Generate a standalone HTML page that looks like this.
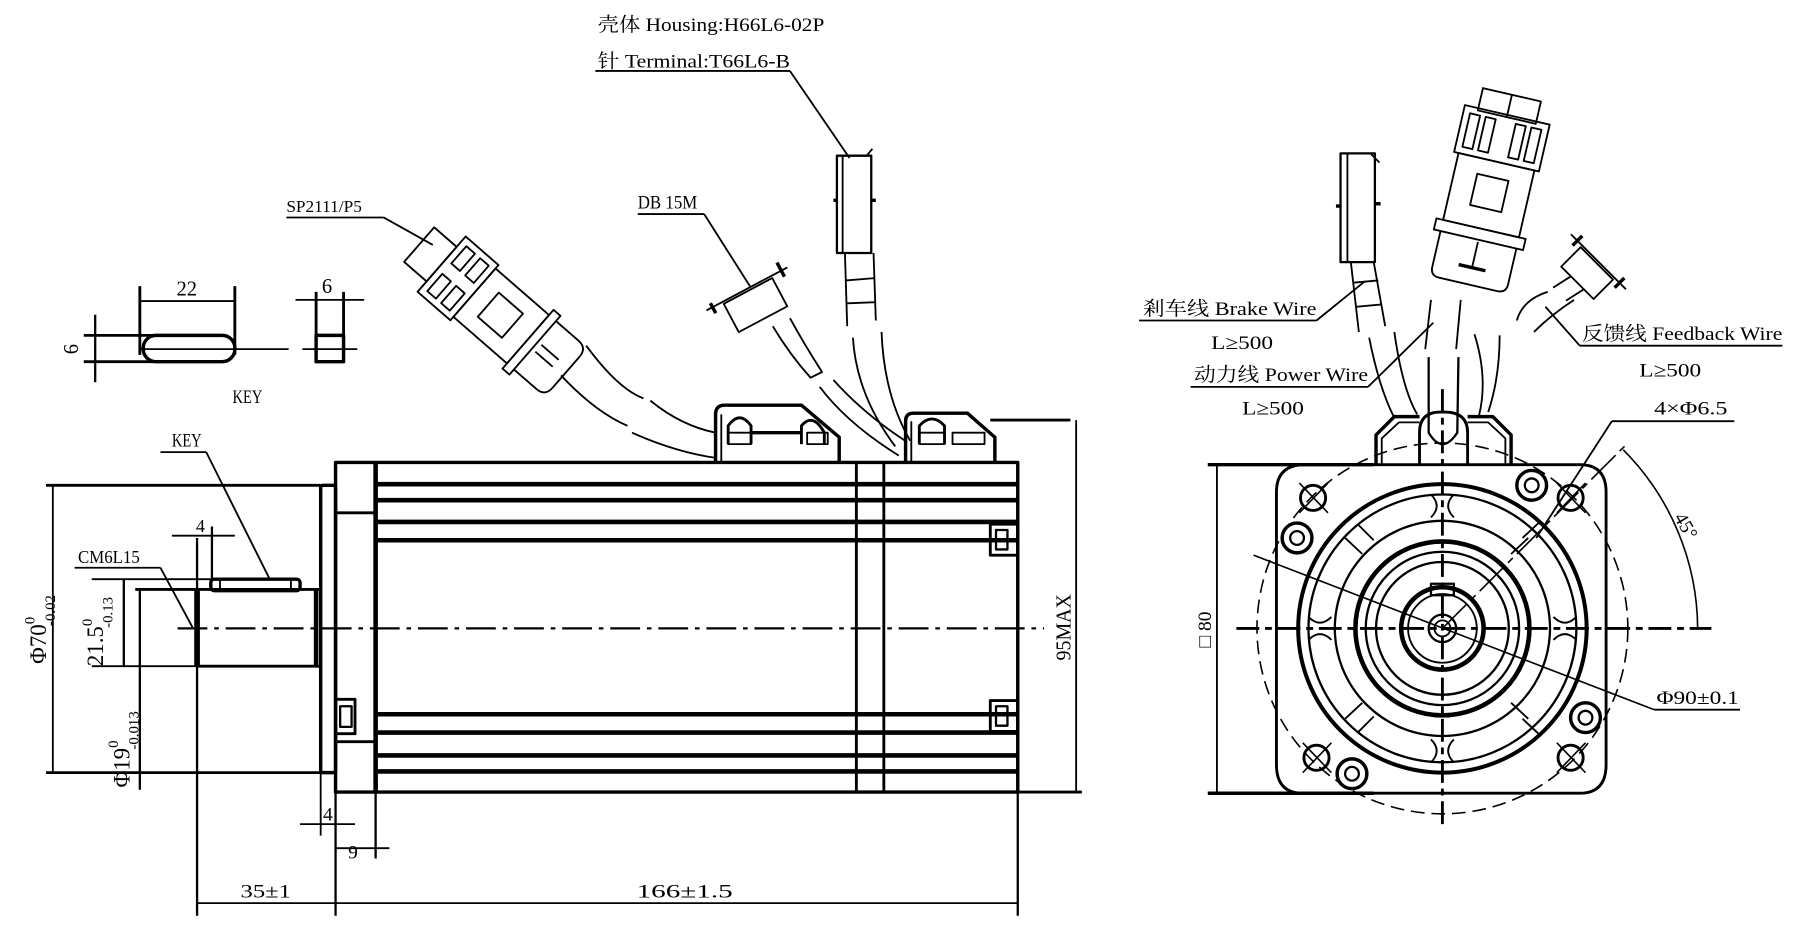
<!DOCTYPE html>
<html><head><meta charset="utf-8"><style>
html,body{margin:0;padding:0;background:#fff;}
svg{display:block;}
text{font-family:"Liberation Serif","Noto Serif CJK SC","Noto Sans CJK SC",serif;fill:#000;}
</style></head><body>
<svg width="1794" height="926" viewBox="0 0 1567 809" xmlns="http://www.w3.org/2000/svg">
<rect x="0" y="0" width="1567" height="809" fill="#fff"/>
<g fill="none" stroke="#000" stroke-width="1.6" stroke-linejoin="round">

<line x1="520" y1="62" x2="690" y2="62"/>
<line x1="690" y1="62" x2="742" y2="138"/>
<line x1="250" y1="190" x2="335" y2="190"/>
<line x1="335" y1="190" x2="378" y2="214"/>
<line x1="557" y1="187" x2="615" y2="187"/>
<line x1="615" y1="187" x2="655" y2="250"/>

<rect x="125" y="293" width="80" height="23" rx="11" stroke-width="3"/>
<line x1="122" y1="250" x2="122" y2="310" stroke-width="2.5"/>
<line x1="205" y1="250" x2="205" y2="310" stroke-width="2.5"/>
<line x1="122" y1="263" x2="205" y2="263"/>
<line x1="73" y1="293" x2="140" y2="293" stroke-width="2.5"/>
<line x1="73" y1="316" x2="140" y2="316" stroke-width="2.5"/>
<line x1="122" y1="305" x2="252" y2="305"/>
<line x1="83" y1="275" x2="83" y2="334" stroke-width="2"/>
<rect x="276" y="293" width="24" height="23" stroke-width="3"/>
<line x1="276" y1="255" x2="276" y2="300" stroke-width="2.5"/>
<line x1="300" y1="255" x2="300" y2="300" stroke-width="2.5"/>
<line x1="258" y1="262" x2="318" y2="262"/>
<line x1="264" y1="305" x2="312" y2="305"/>

<rect x="293" y="404" width="596" height="288" stroke-width="3"/>
<line x1="328" y1="404" x2="328" y2="692" stroke-width="4"/>
<line x1="748" y1="404" x2="748" y2="692" stroke-width="2.5"/>
<line x1="772" y1="404" x2="772" y2="692" stroke-width="2.5"/>
<line x1="293" y1="448" x2="328" y2="448" stroke-width="2.5"/>
<line x1="293" y1="648" x2="328" y2="648" stroke-width="2.5"/>
<g stroke-width="4">
<line x1="328" y1="423" x2="889" y2="423"/>
<line x1="328" y1="437" x2="889" y2="437"/>
<line x1="328" y1="456" x2="889" y2="456"/>
<line x1="328" y1="472" x2="889" y2="472"/>
<line x1="328" y1="624" x2="889" y2="624"/>
<line x1="328" y1="640" x2="889" y2="640"/>
<line x1="328" y1="660" x2="889" y2="660"/>
<line x1="328" y1="674" x2="889" y2="674"/>
</g>
<rect x="865" y="458" width="24" height="27" stroke-width="2.5"/>
<rect x="870" y="463" width="10" height="17" stroke-width="2"/>
<rect x="865" y="612" width="24" height="27" stroke-width="2.5"/>
<rect x="870" y="617" width="10" height="17" stroke-width="2"/>
<rect x="293" y="611" width="17" height="30" stroke-width="2.5"/>
<rect x="297" y="617" width="10" height="18" stroke-width="2"/>
<rect x="280" y="424" width="13" height="251" rx="2" stroke-width="3"/>
<line x1="172" y1="515" x2="172" y2="582" stroke-width="5"/>
<line x1="172" y1="515" x2="280" y2="515" stroke-width="2.5"/>
<line x1="172" y1="582" x2="280" y2="582" stroke-width="2.5"/>
<line x1="276" y1="515" x2="276" y2="582" stroke-width="4"/>
<rect x="184" y="506" width="78" height="10" rx="3" stroke-width="3"/>
<line x1="192" y1="506" x2="192" y2="516"/>
<line x1="254" y1="506" x2="254" y2="516"/>
<line x1="155" y1="549" x2="912" y2="549" stroke-width="2" stroke-dasharray="26,6,4,6"/>

<path d="M625 404 L625 362 Q625 354 633 354 L700 354 L733 382 L733 404" stroke-width="3"/>
<line x1="630" y1="362" x2="630" y2="404"/>
<path d="M636 388 L636 372 Q646 358 656 372 L656 388" stroke-width="2.5"/>
<path d="M700 388 L700 372 Q710 360 720 378 L720 388" stroke-width="2.5"/>
<line x1="656" y1="378" x2="700" y2="378" stroke-width="3"/>
<rect x="636" y="378" width="20" height="10"/>
<rect x="705" y="378" width="18" height="10"/>
<path d="M791 404 L791 368 Q791 361 798 361 L845 361 L869 382 L869 404" stroke-width="3"/>
<line x1="796" y1="368" x2="796" y2="404"/>
<path d="M803 388 L803 372 Q814 360 825 372 L825 388" stroke-width="2.5"/>
<rect x="803" y="378" width="22" height="10"/>
<rect x="832" y="378" width="28" height="10"/>
<line x1="865" y1="367" x2="935" y2="367" stroke-width="2.5"/>

<g transform="translate(440,278) rotate(41)">
<rect x="-98" y="-20" width="26" height="40"/>
<rect x="-72" y="-32" width="38" height="64"/>
<rect x="-66" y="-26" width="10" height="20"/>
<rect x="-66" y="6" width="10" height="20"/>
<rect x="-50" y="-26" width="10" height="20"/>
<rect x="-50" y="6" width="10" height="20"/>
<rect x="-34" y="-28" width="62" height="56"/>
<rect x="-18" y="-14" width="28" height="28"/>
<rect x="28" y="-34" width="8" height="68"/>
<path d="M36 -28 L62 -28 Q72 -28 72 -18 L72 18 Q72 28 62 28 L36 28"/>
<line x1="40" y1="-4" x2="60" y2="-4"/>
<line x1="40" y1="4" x2="60" y2="4"/>
</g>
<path d="M490 328 Q520 360 548 372"/>
<path d="M512 302 Q540 340 562 348"/>
<path d="M552 378 Q590 395 625 400"/>
<path d="M568 350 Q595 372 625 378"/>
<g transform="translate(658,263) rotate(-28)">
<line x1="-40" y1="-12" x2="40" y2="-12"/>
<line x1="-34" y1="-16" x2="-34" y2="-6" stroke-width="3"/>
<line x1="34" y1="-20" x2="34" y2="-6" stroke-width="3"/>
<rect x="-24" y="-10" width="48" height="28"/>
</g>
<path d="M675 285 Q690 310 708 330 L718 325 Q702 300 690 278"/>
<path d="M716 338 Q740 370 785 398"/>
<path d="M728 332 Q755 362 792 386"/>
<rect x="731" y="136" width="30" height="85" stroke-width="2"/>
<line x1="736" y1="136" x2="736" y2="221"/>
<line x1="757" y1="136" x2="762" y2="130"/>
<line x1="728" y1="175" x2="731" y2="175" stroke-width="3"/>
<line x1="761" y1="175" x2="765" y2="175" stroke-width="3"/>
<path d="M738 221 L740 285 M763 221 L765 280"/>
<line x1="739" y1="245" x2="764" y2="243"/>
<line x1="740" y1="265" x2="765" y2="264"/>
<path d="M745 295 Q748 345 782 390"/>
<path d="M770 290 Q772 345 795 385"/>

<line x1="40" y1="424" x2="280" y2="424" stroke-width="2.5"/>
<line x1="40" y1="675" x2="280" y2="675" stroke-width="2.5"/>
<line x1="46" y1="424" x2="46" y2="675"/>
<line x1="80" y1="506" x2="184" y2="506"/>
<line x1="80" y1="582" x2="172" y2="582"/>
<line x1="108" y1="506" x2="108" y2="582" stroke-width="2"/>
<line x1="118" y1="515" x2="172" y2="515" stroke-width="2.5"/>
<line x1="122" y1="515" x2="122" y2="690" stroke-width="2"/>
<line x1="140" y1="395" x2="180" y2="395"/>
<line x1="180" y1="395" x2="235" y2="505"/>
<line x1="65" y1="496" x2="140" y2="496"/>
<line x1="140" y1="496" x2="168" y2="548"/>
<line x1="172" y1="470" x2="172" y2="520" stroke-width="2"/>
<line x1="185" y1="460" x2="185" y2="508" stroke-width="2"/>
<line x1="150" y1="468" x2="205" y2="468"/>
<line x1="172" y1="582" x2="172" y2="800" stroke-width="2"/>
<line x1="293" y1="692" x2="293" y2="800" stroke-width="2"/>
<line x1="280" y1="675" x2="280" y2="730"/>
<line x1="889" y1="692" x2="889" y2="800" stroke-width="2"/>
<line x1="328" y1="692" x2="328" y2="750" stroke-width="2"/>
<line x1="262" y1="720" x2="310" y2="720"/>
<line x1="293" y1="741" x2="340" y2="741"/>
<line x1="172" y1="789" x2="889" y2="789"/>
<line x1="889" y1="692" x2="945" y2="692" stroke-width="2.5"/>
<line x1="940" y1="367" x2="940" y2="692"/>

<path d="M1140 406 L1380 406 Q1403 406 1403 430 L1403 668 Q1403 693 1380 693 L1138 693 Q1115 693 1115 668 L1115 430 Q1115 406 1140 406 Z" stroke-width="2.5"/>
<line x1="1055" y1="406" x2="1200" y2="406" stroke-width="3"/>
<line x1="1055" y1="693" x2="1200" y2="693" stroke-width="3"/>
<line x1="1063" y1="406" x2="1063" y2="693"/>
<circle cx="1260" cy="549" r="162" stroke-dasharray="12,6" stroke-width="1.4"/>
<circle cx="1260" cy="549" r="126" stroke-width="3.5"/>
<circle cx="1260" cy="549" r="117" stroke-width="2"/>
<circle cx="1260" cy="549" r="94" stroke-width="2"/>
<circle cx="1260" cy="549" r="76" stroke-width="4"/>
<circle cx="1260" cy="549" r="67" stroke-width="2"/>
<circle cx="1260" cy="549" r="58" stroke-width="2"/>
<circle cx="1260" cy="549" r="36" stroke-width="4"/>
<circle cx="1260" cy="549" r="30" stroke-width="1.6"/>
<circle cx="1260" cy="549" r="12" stroke-width="2"/>
<circle cx="1260" cy="549" r="7"/>
<rect x="1250" y="510" width="20" height="10" stroke-width="2"/>
<g stroke-width="1.6">
<path d="M1250 432 Q1260 442 1250 452 M1270 432 Q1260 442 1270 452"/>
<path d="M1250 646 Q1260 656 1250 666 M1270 646 Q1260 656 1270 666"/>
<path d="M1143 539 Q1153 549 1163 539 M1143 559 Q1153 549 1163 559"/>
<path d="M1357 539 Q1367 549 1377 539 M1357 559 Q1367 549 1377 559"/>
<path d="M1175 470 L1190 484 M1186 458 L1200 472"/>
<path d="M1330 470 L1345 456 M1320 484 L1335 470"/>
<path d="M1175 628 L1190 614 M1186 640 L1200 626"/>
<path d="M1330 628 L1345 642 M1320 614 L1335 628"/>
</g>
<g stroke-width="2.5">
<circle cx="1147" cy="435" r="11"/><circle cx="1372" cy="435" r="11"/>
<circle cx="1150" cy="662" r="11"/><circle cx="1372" cy="662" r="11"/>
</g>
<g stroke-width="1.4">
<path d="M1135 422 L1160 448 M1135 448 L1160 422"/>
<path d="M1360 448 L1385 422 M1360 422 L1385 448"/>
<path d="M1138 649 L1163 675 M1138 675 L1163 649"/>
<path d="M1360 675 L1385 649 M1360 649 L1385 675"/>
</g>
<g stroke-width="3">
<circle cx="1133" cy="470" r="13"/><circle cx="1133" cy="470" r="6" stroke-width="2"/>
<circle cx="1338" cy="424" r="13"/><circle cx="1338" cy="424" r="6" stroke-width="2"/>
<circle cx="1385" cy="627" r="13"/><circle cx="1385" cy="627" r="6" stroke-width="2"/>
<circle cx="1181" cy="676" r="13"/><circle cx="1181" cy="676" r="6" stroke-width="2"/>
</g>
<line x1="1080" y1="549" x2="1495" y2="549" stroke-width="2.5" stroke-dasharray="20,5,6,5"/>
<line x1="1260" y1="340" x2="1260" y2="720" stroke-width="2.5" stroke-dasharray="20,5,6,5"/>
<line x1="1260" y1="549" x2="1420" y2="389" stroke-width="1.4" stroke-dasharray="30,5,6,5"/>
<path d="M1418 393 A223 223 0 0 1 1483 549" stroke-width="1.4"/>
<line x1="1095" y1="485" x2="1445" y2="620" stroke-width="1.4"/>
<line x1="1445" y1="620" x2="1520" y2="620"/>
<line x1="1408" y1="368" x2="1515" y2="368"/>
<line x1="1408" y1="368" x2="1342" y2="470"/>
<path d="M1202 406 L1202 380 L1218 364 L1240 364 M1320 406 L1320 380 L1304 364 L1282 364" stroke-width="3"/>
<path d="M1207 406 L1207 383 L1222 369 L1240 369 M1315 406 L1315 383 L1300 369 L1282 369" stroke-width="1.6"/>
<path d="M1240 406 L1240 378 Q1240 360 1258 360 L1262 360 Q1282 360 1282 378 L1282 406" stroke-width="2.5"/>
<path d="M1248 312 L1248 378 Q1260 398 1273 378 L1274 312" stroke-width="2"/>
<path d="M1196 295 Q1205 340 1218 365 M1218 290 Q1225 340 1238 362"/>
<path d="M1288 292 Q1300 330 1292 363 M1310 293 Q1310 330 1300 360"/>
<path d="M1250 262 L1245 305 M1276 262 L1272 305"/>
<path d="M1352 255 Q1330 262 1325 280 M1375 262 Q1355 275 1340 290"/>
<rect x="1171" y="134" width="30" height="95" stroke-width="2"/>
<line x1="1177" y1="134" x2="1177" y2="229"/>
<line x1="1197" y1="134" x2="1205" y2="142"/>
<line x1="1167" y1="180" x2="1171" y2="180" stroke-width="3"/>
<line x1="1201" y1="178" x2="1206" y2="178" stroke-width="3"/>
<path d="M1180 229 L1187 290 M1200 229 L1210 285"/>
<line x1="1182" y1="247" x2="1204" y2="245"/>
<line x1="1185" y1="268" x2="1207" y2="266"/>
<g transform="translate(1296,190) rotate(13)">
<rect x="-26" y="-110" width="52" height="20"/>
<line x1="0" y1="-110" x2="0" y2="-90"/>
<rect x="-38" y="-92" width="76" height="42"/>
<rect x="-32" y="-86" width="9" height="30"/><rect x="-18" y="-86" width="9" height="30"/>
<rect x="9" y="-86" width="9" height="30"/><rect x="23" y="-86" width="9" height="30"/>
<rect x="-34" y="-50" width="68" height="60"/>
<rect x="-14" y="-36" width="28" height="28"/>
<rect x="-40" y="10" width="80" height="10"/>
<path d="M-34 20 L-34 52 Q-34 60 -26 60 L26 60 Q34 60 34 52 L34 20"/>
<line x1="0" y1="22" x2="0" y2="45"/>
<line x1="-12" y1="45" x2="12" y2="45" stroke-width="3"/>
</g>
<g transform="translate(1385,240) rotate(45)">
<line x1="-34" y1="-16" x2="34" y2="-16"/>
<line x1="-26" y1="-22" x2="-26" y2="-10" stroke-width="3"/>
<line x1="26" y1="-22" x2="26" y2="-10" stroke-width="3"/>
<rect x="-20" y="-14" width="40" height="24"/>
<path d="M-8 10 L-12 28 M8 10 L4 28"/>
</g>
<line x1="995" y1="280" x2="1150" y2="280"/>
<line x1="1150" y1="280" x2="1192" y2="246"/>
<line x1="1040" y1="338" x2="1195" y2="338"/>
<line x1="1195" y1="338" x2="1252" y2="282"/>
<line x1="1380" y1="302" x2="1557" y2="302"/>
<line x1="1380" y1="302" x2="1350" y2="268"/>
</g>

<g font-size="17">
<text x="522" y="27" textLength="198" lengthAdjust="spacingAndGlyphs">壳体 Housing:H66L6-02P</text>
<text x="522" y="59" textLength="168" lengthAdjust="spacingAndGlyphs">针 Terminal:T66L6-B</text>
<text x="250" y="185" font-size="15" textLength="66" lengthAdjust="spacingAndGlyphs">SP2111/P5</text>
<text x="557" y="182" textLength="52" lengthAdjust="spacingAndGlyphs">DB 15M</text>
<text x="154" y="258" font-size="18" textLength="18" lengthAdjust="spacingAndGlyphs">22</text>
<text x="281" y="256" font-size="18">6</text>
<text transform="translate(68,305) rotate(-90)" font-size="18" text-anchor="middle">6</text>
<text x="203" y="352" font-size="17" textLength="26" lengthAdjust="spacingAndGlyphs">KEY</text>
<text x="150" y="390" font-size="17" textLength="26" lengthAdjust="spacingAndGlyphs">KEY</text>
<text x="171" y="465" font-size="16">4</text>
<text x="68" y="492" font-size="16" textLength="54" lengthAdjust="spacingAndGlyphs">CM6L15</text>
<text transform="translate(40,580) rotate(-90)" font-size="20">Φ70<tspan font-size="13" dy="-10">0</tspan><tspan font-size="13" dx="-8" dy="18">-0.02</tspan></text>
<text transform="translate(90,582) rotate(-90)" font-size="20">21.5<tspan font-size="13" dy="-10">0</tspan><tspan font-size="13" dx="-8" dy="18">-0.13</tspan></text>
<text transform="translate(113,688) rotate(-90)" font-size="20">Φ19<tspan font-size="13" dy="-10">0</tspan><tspan font-size="13" dx="-8" dy="18">-0.013</tspan></text>
<text transform="translate(935,548) rotate(-90)" font-size="18" text-anchor="middle" textLength="58" lengthAdjust="spacingAndGlyphs">95MAX</text>
<text x="282" y="717" font-size="17">4</text>
<text x="304" y="750" font-size="17">9</text>
<text x="210" y="784" font-size="17" textLength="44" lengthAdjust="spacingAndGlyphs">35±1</text>
<text x="556" y="784" font-size="17" textLength="84" lengthAdjust="spacingAndGlyphs">166±1.5</text>
<text x="998" y="275" textLength="152" lengthAdjust="spacingAndGlyphs">剎车线 Brake Wire</text>
<text x="1058" y="305" textLength="54" lengthAdjust="spacingAndGlyphs">L≥500</text>
<text x="1043" y="333" textLength="152" lengthAdjust="spacingAndGlyphs">动力线 Power Wire</text>
<text x="1085" y="362" textLength="54" lengthAdjust="spacingAndGlyphs">L≥500</text>
<text x="1382" y="297" textLength="175" lengthAdjust="spacingAndGlyphs">反馈线 Feedback Wire</text>
<text x="1432" y="329" textLength="54" lengthAdjust="spacingAndGlyphs">L≥500</text>
<text x="1445" y="362" textLength="64" lengthAdjust="spacingAndGlyphs">4×Φ6.5</text>
<text x="1447" y="615" textLength="72" lengthAdjust="spacingAndGlyphs">Φ90±0.1</text>
<text transform="translate(1462,452) rotate(60)" font-size="17">45°</text>
<text transform="translate(1058,550) rotate(-90)" font-size="17" text-anchor="middle">□ 80</text>
</g>
</svg>
</body></html>
